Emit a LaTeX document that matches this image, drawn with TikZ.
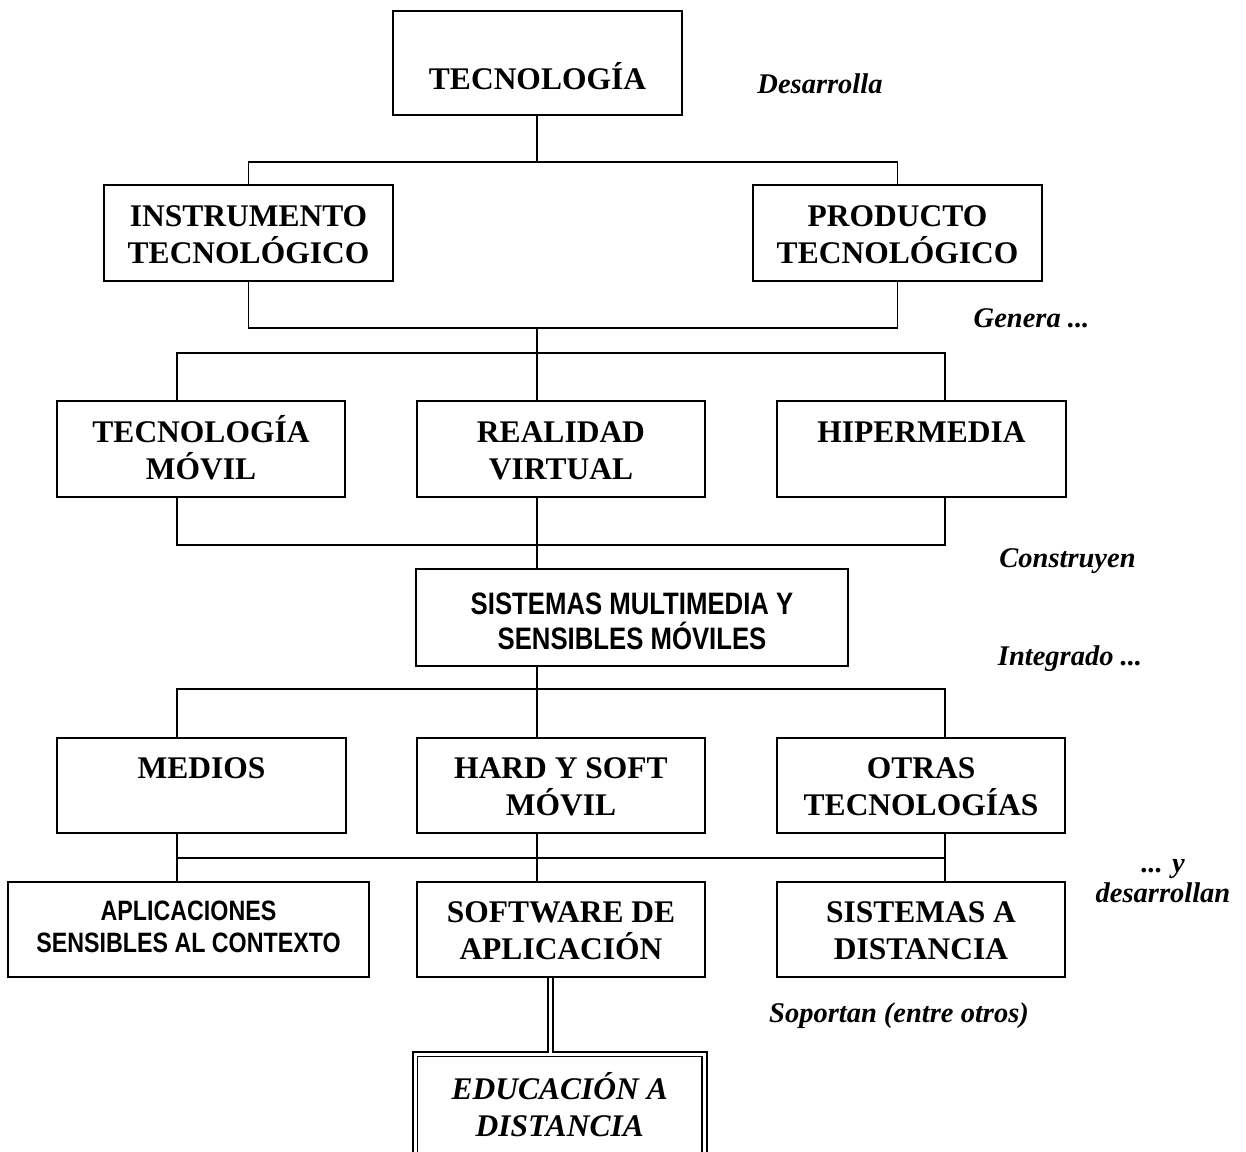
\documentclass[tikz,border=0pt]{standalone}
\usepackage{fontspec}
\setmainfont{Liberation Serif}
\newfontfamily\arialn[FakeStretch=0.83]{Liberation Sans}
\newcommand{\Ta}{\rule{0pt}{28pt}}
\newcommand{\Tb}{\rule[-5pt]{0pt}{5pt}}
\newcommand{\Sa}{\rule{0pt}{31pt}}
\newcommand{\Sb}{\rule[-2pt]{0pt}{2pt}}
\newcommand{\Aa}{\rule{0pt}{20pt}}
\newcommand{\Ab}{\rule[-7pt]{0pt}{7pt}}
\newcommand{\Ea}{\rule{0pt}{24pt}}
\newcommand{\Eb}{\rule[-7pt]{0pt}{7pt}}
\begin{document}
\begin{tikzpicture}[x=1pt,y=-1pt,
  line width=1.9pt,
  box/.style={draw, line width=1.9pt, inner sep=0pt, align=center,
    font=\fontsize{31.5}{37}\selectfont\bfseries},
  sbox/.style={box, font=\arialn\bfseries\fontsize{31}{35}\selectfont},
  abox/.style={box, font=\arialn\bfseries\fontsize{28}{32}\selectfont},
  ebox/.style={draw, double, line width=1.8pt, double distance=3pt, inner sep=0pt, align=center,
    font=\fontsize{31.5}{37}\selectfont\bfseries\itshape},
  dbl/.style={double, line width=1.7pt, double distance=2.8pt},
  lbl/.style={font=\fontsize{28.5}{30}\selectfont\bfseries\itshape, inner sep=0pt}
]
\useasboundingbox (0,0) rectangle (1246,1151);

% boxes
\node[box, minimum width=289pt, minimum height=104pt, text height=52pt, text depth=0pt] (tec) at (537.5,63) {TECNOLOGÍA};
\node[box, minimum width=289pt, minimum height=96pt] (ins) at (248.5,233) {\Ta INSTRUMENTO\\TECNOLÓGICO\Tb};
\node[box, minimum width=289pt, minimum height=96pt] (pro) at (897.5,233) {\Ta PRODUCTO\\TECNOLÓGICO\Tb};

\node[box, minimum width=288pt, minimum height=96pt] (mov) at (201,449) {\Ta TECNOLOGÍA\\MÓVIL\Tb};
\node[box, minimum width=288pt, minimum height=96pt] (vir) at (561,449) {\Ta REALIDAD\\VIRTUAL\Tb};
\node[box, minimum width=289pt, minimum height=96pt] (hip) at (921.5,449) {\Ta HIPERMEDIA\\\mbox{}\Tb};

\node[sbox, minimum width=432pt, minimum height=97pt] (sis) at (632,617.5) {\Sa SISTEMAS MULTIMEDIA Y\\SENSIBLES MÓVILES\Sb};

\node[box, minimum width=289pt, minimum height=95pt] (med) at (201.5,785.5) {\Ta MEDIOS\\\mbox{}\Tb};
\node[box, minimum width=288pt, minimum height=95pt] (har) at (561,785.5) {\Ta HARD Y SOFT\\MÓVIL\Tb};
\node[box, minimum width=288pt, minimum height=95pt] (otr) at (921,785.5) {\Ta OTRAS\\TECNOLOGÍAS\Tb};

\node[abox, minimum width=361pt, minimum height=95pt] (apl) at (188.5,929.5) {\Aa APLICACIONES\\SENSIBLES AL CONTEXTO\Ab};
\node[box, minimum width=288pt, minimum height=95pt] (sof) at (561,929.5) {\Ta SOFTWARE DE\\APLICACIÓN\Tb};
\node[box, minimum width=288pt, minimum height=95pt] (sid) at (921,929.5) {\Ta SISTEMAS A\\DISTANCIA\Tb};

\node[ebox, minimum width=289.5pt, minimum height=108pt] (edu) at (559.75,1108) {\Ea EDUCACIÓN A\\DISTANCIA\Eb};

% labels
\node[lbl, anchor=base] (l1) at (820,93) {Desarrolla};
\node[lbl, anchor=base] (l2) at (1031.5,327) {Genera ...};
\node[lbl, anchor=base] (l3) at (1067.5,567) {Construyen};
\node[lbl, anchor=base] (l4) at (1070,665) {Integrado ...};
\node[lbl, align=center] (l5) at (1163,878) {\rule{0pt}{20pt}... y\\desarrollan\rule[-2pt]{0pt}{2pt}};
\node[lbl, anchor=base] (l6) at (899,1022) {Soportan (entre otros)};

% junction coordinates
\coordinate (j1) at (537,162);
\coordinate (j2) at (537,328);
\coordinate (h3L) at (177,353);
\coordinate (h3R) at (945,353);
\coordinate (h4L) at (177,545);
\coordinate (h4R) at (945,545);
\coordinate (h5L) at (177,689);
\coordinate (h5R) at (945,689);
\coordinate (h6L) at (177,858);
\coordinate (h6R) at (945,858);
\coordinate (dd) at (550.5,1000);

% connectors
\draw (tec.south -| j1) -- (j1);
\draw (ins.north) |- (j1) -| (pro.north);
\draw (ins.south) |- (j2) -| (pro.south);
\draw (j2) -- (vir.north -| j2);
\draw (mov.north -| h3L) -- (h3L) -- (h3R) -- (hip.north -| h3R);
\draw (mov.south -| h4L) -- (h4L) -- (h4R) -- (hip.south -| h4R);
\draw (vir.south -| j2) -- (sis.north -| j2);
\draw (sis.south -| j2) -- (har.north -| j2);
\draw (med.north -| h5L) -- (h5L) -- (h5R) -- (otr.north -| h5R);
\draw (med.south -| h6L) -- (apl.north -| h6L);
\draw (h6L) -- (h6R);
\draw (otr.south -| h6R) -- (sid.north -| h6R);
\draw (har.south -| j2) -- (sof.north -| j2);
\draw[dbl] (sof.south -| dd) -- (edu.north -| dd);
\end{tikzpicture}
\end{document}
